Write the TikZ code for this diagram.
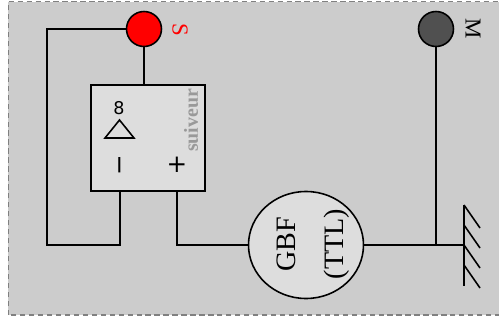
\documentclass[tikz,border=0pt]{standalone}
\usepackage{fontspec}
\setmainfont{Liberation Serif}
\newfontfamily\labelfont{DejaVu Sans}
\usetikzlibrary{shapes.geometric}
\definecolor{panelgray}{HTML}{CCCCCC}
\definecolor{lightbox}{HTML}{DDDDDD}
\definecolor{darkpoint}{HTML}{505050}
\tikzset{
  wire/.style={line width=0.9pt},
  point/.style={circle,draw,line width=0.9pt,minimum size=0.7cm,inner sep=0pt},
}

\begin{document}
\begin{tikzpicture}[wire]
\useasboundingbox (0,0) rectangle (9.98,6.4);

\fill[white] (0,0) rectangle (9.98,6.4);
\draw[draw=gray,fill=panelgray,dash pattern=on 3pt off 2.1pt,line width=1.1pt] (0.17,0.1) rectangle (10.2,6.37);

% points
\node[point,fill=red] (pointS) at (2.88,5.82) {};
\node[point,fill=darkpoint] (pointM) at (8.72,5.82) {};
\node[red,rotate=-90,font=\fontsize{13}{13}\selectfont] (labelS) at (3.6,5.8) {S};
\node[rotate=-90,font=\fontsize{13}{13}\selectfont] (labelM) at (9.46,5.82) {M};

% suiveur
\node[draw,fill=lightbox,minimum width=2.28cm,minimum height=2.12cm,inner sep=0pt,line width=0.9pt] (suiveur) at (2.96,3.64) {};
\node[rotate=90,text=gray!80,font=\fontsize{11.3}{11.3}\selectfont\bfseries] (suiveurlabel) at (3.82,3.99) {suiveur};
\node[font=\labelfont\fontsize{10}{10}\selectfont,inner sep=0pt] (infini) at (2.38,4.24) {8};
\coordinate (amplitop) at (2.39,4.0);
\draw (amplitop) -- (2.68,3.64) -- (2.1,3.64) -- cycle;
\node[font=\labelfont\fontsize{14}{14}\selectfont,inner sep=0pt,rotate=90] (moins) at (2.47,3.1) {−};
\node[font=\labelfont\fontsize{14}{14}\selectfont,inner sep=0pt] (plus) at (3.54,3.1) {+};

% GBF
\node[draw,ellipse,fill=lightbox,minimum width=2.3cm,minimum height=2.14cm,inner sep=0pt] (gbf) at (6.12,1.5) {};
\node[rotate=90,font=\fontsize{16}{16}\selectfont] (gbflabel) at (5.72,1.51) {GBF};
\node[rotate=90,font=\fontsize{16}{16}\selectfont] (ttl) at (6.74,1.52) {(TTL)};

% masse
\coordinate (gnd) at (9.28,1.5);
\coordinate (gndtop) at (9.28,2.3);
\coordinate (gndbot) at (9.28,0.68);
\draw (gndtop) -- (gndbot);
\foreach \y in {2.3,1.9,1.5,1.1} {
  \draw (9.28,\y) -- ++(0.32,-0.46);
}

% fils
\coordinate (backleft) at (0.94,1.5);
\coordinate (moinsfil) at (2.4,2.58);
\draw (pointS) -- (pointS -| backleft) -- (backleft) -- (moinsfil |- backleft) -- (moinsfil);
\draw (pointS) -- (pointS |- suiveur.north);
\draw (plus |- suiveur.south) -- (plus |- gbf.west) -- (gbf.west);
\draw (gbf.east) -- (gnd);
\draw (pointM) -- (pointM |- gnd);
\end{tikzpicture}
\end{document}
